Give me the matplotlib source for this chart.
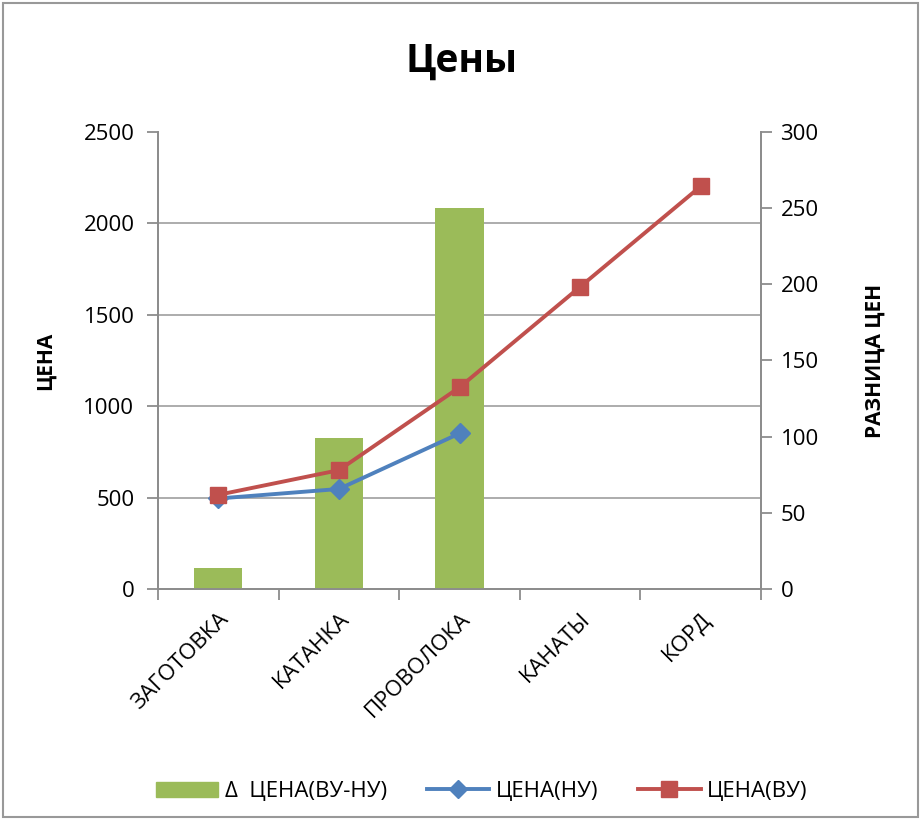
import numpy as np
import matplotlib.pyplot as plt
from matplotlib.patches import Rectangle
from matplotlib.lines import Line2D

plt.rcParams['font.family'] = ['Open Sans', 'DejaVu Sans']

# данные
категории = ["ЗАГОТОВКА", "КАТАНКА", "ПРОВОЛОКА", "КАНАТЫ", "КОРД"]
цена_ну = [495, 547, 851, None, None]
цена_ву = [515, 650, 1103, 1653, 2203]
разница = [14, 99, 250, 0, 0]

зеленый = "#9BBB59"
синий = "#4F81BD"
красный = "#C0504D"
серый = "#8C8C8C"

fig = plt.figure(figsize=(9.23, 8.22), dpi=100)
fig.patches.append(Rectangle((0.003, 0.006), 0.992, 0.99, transform=fig.transFigure,
                             fill=False, edgecolor="#999999", linewidth=1.5))

ax = fig.add_axes([0.1712, 0.2835, 0.6533, 0.5559])
ax2 = ax.twinx()
ax.set_zorder(2)
ax2.set_zorder(1)
ax.patch.set_visible(False)

x = np.arange(len(категории))

# столбцы - разница цен (правая ось)
ax2.bar(x, разница, width=0.4, color=зеленый, zorder=3)
ax2.set_ylim(0, 300)
ax2.set_yticks(np.arange(0, 301, 50))
ax2.set_yticks(np.arange(0, 301, 60), minor=True)
ax2.grid(which="minor", axis="y", color="#A6A6A6", linewidth=1.3, zorder=0)
ax2.tick_params(axis="y", which="minor", length=0)
ax2.set_axisbelow(True)

# линии - цены (левая ось)
ну = np.array([np.nan if v is None else v for v in цена_ну], dtype=float)
ax.plot(x, ну, color=синий, linewidth=2.8, marker="D", markersize=10, zorder=4)
ax.plot(x, цена_ву, color=красный, linewidth=2.8, marker="s", markersize=12, zorder=5)
ax.set_ylim(0, 2500)
ax.set_yticks(np.arange(0, 2501, 500))
ax.set_xlim(-0.5, len(категории) - 0.5)

# деления по оси X на границах категорий
ax.set_xticks(np.arange(-0.5, len(категории), 1))
ax.set_xticklabels([])
ax.set_xticks(x, minor=True)
ax.set_xticklabels(категории, minor=True, rotation=45, ha="right",
                   rotation_mode="anchor", fontsize=16)
ax.tick_params(axis="x", which="minor", length=0, pad=14)
ax.tick_params(axis="x", which="major", length=8, width=1.3, color=серый)

ax.tick_params(axis="y", length=8, width=1.3, color=серый, labelsize=16, pad=9)
ax2.tick_params(axis="y", which="major", length=8, width=1.3, color=серый, labelsize=16, pad=6)

for a in (ax, ax2):
    for s in a.spines.values():
        s.set_color(серый)
        s.set_linewidth(1.3)
    a.spines["top"].set_visible(False)

ax.set_ylabel("ЦЕНА", fontsize=15, fontweight="bold", labelpad=20)
ax2.set_ylabel("РАЗНИЦА ЦЕН", fontsize=15, fontweight="bold", labelpad=33, rotation=90)

fig.text(0.5, 0.926, "Цены", ha="center", va="center", fontsize=28, fontweight="bold")

handles = [
    Rectangle((0, 0), 1, 1, color=зеленый),
    Line2D([], [], color=синий, linewidth=2.8, marker="D", markersize=9),
    Line2D([], [], color=красный, linewidth=2.8, marker="s", markersize=11),
]
labels = ["Δ  ЦЕНА(ВУ-НУ)", "ЦЕНА(НУ)", "ЦЕНА(ВУ)"]
fig.legend(handles, labels, loc="center", bbox_to_anchor=(0.522, 0.037), ncol=3,
           frameon=False, fontsize=16, handlelength=2.8, handletextpad=0.3,
           columnspacing=1.8)

fig.savefig("out.png", dpi=100)
